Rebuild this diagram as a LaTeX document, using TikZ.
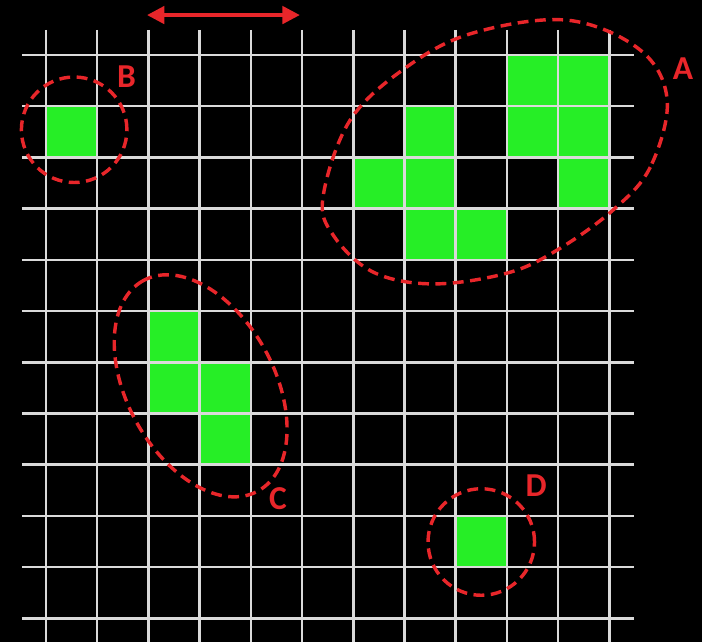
\documentclass[tikz,border=0pt]{standalone}
\usepackage{fontspec}
\setmainfont{Carlito}
\usepackage{xcolor}
\definecolor{CellGreen}{HTML}{26EE26}
\definecolor{MarkRed}{HTML}{E8262A}
\definecolor{GridGray}{HTML}{DADADA}
\usepackage{tikz}
\usetikzlibrary{arrows.meta}

\begin{document}
\begin{tikzpicture}[
  x=0.553pt*51.2, y=0.553pt*51.2,
  every node/.style={font=\fontsize{18.5}{18.5}\selectfont\bfseries},
  gridline/.style={draw=GridGray, line width=1.4pt},
  cellfill/.style={fill=CellGreen},
  cluster/.style={draw=MarkRed, line width=1.9pt,
                  dash pattern=on 6pt off 3.6pt},
  tag/.style={text=MarkRed, inner sep=0pt},
  scalearr/.style={{Triangle[length=3.4mm,width=3.3mm]}-{Triangle[length=3.4mm,width=3.3mm]},
                   draw=MarkRed, line width=2.6pt}
]
% black page
\fill[black] (-0.898,1.074) rectangle (12.81,-11.465);
\useasboundingbox (-0.898,1.074) rectangle (12.81,-11.465);

% occupied cells (column/row)
\foreach \c/\r in {0/1,
                   9/0,10/0,7/1,9/1,10/1,6/2,7/2,10/2,7/3,8/3,
                   2/5,2/6,3/6,3/7,
                   8/9}
  \fill[cellfill] (\c,-\r) rectangle ++(1,-1);

% grid
\foreach \i in {0,...,11} {
  \draw[gridline] (\i,0.49) -- (\i,-11.47);
  \draw[gridline] (-0.47,-\i) -- (11.48,-\i);
}

% clusters
\draw[cluster] (0.55,-1.46) circle (1.03);
\draw[cluster] (8.50,-9.51) circle (1.04);
\draw[cluster] (3.02,-6.46) ellipse[x radius=2.34, y radius=1.44, rotate=118.5];
\draw[cluster] plot[smooth cycle, tension=0.6] coordinates {
  (12.13,-0.88) (11.80,-2.19) (11.07,-3.03) (9.98,-3.81) (9.00,-4.26)
  (7.56,-4.47) (6.39,-4.24) (5.61,-3.52) (5.41,-2.77) (5.94,-1.27)
  (7.05,-0.23) (8.34,0.43) (10.18,0.68) (11.60,0.10)};

% labels
\node[tag] (labA) at (12.44,-0.27) {A};
\node[tag] (labB) at (1.57,-0.43) {B};
\node[tag] (labC) at (4.53,-8.66) {C};
\node[tag] (labD) at (9.57,-8.40) {D};

% cell size marker
\coordinate (sL) at (1.97,0.78);
\coordinate (sR) at (4.96,0.78);
\draw[scalearr] (sL) -- (sR);

\end{tikzpicture}
\end{document}
